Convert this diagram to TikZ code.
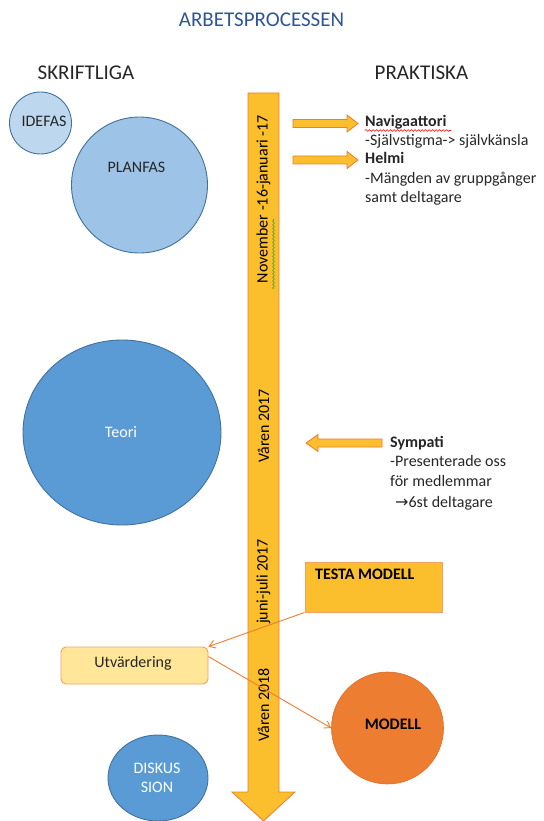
\documentclass[tikz,border=0pt]{standalone}
\usepackage{fontspec}
\setmainfont{Carlito}
\newfontfamily\arrowfont{DejaVu Sans}
\usetikzlibrary{arrows.meta,decorations.pathmorphing,shapes.geometric}
\definecolor{titleblue}{RGB}{47,85,151}
\definecolor{lightblue}{RGB}{189,215,238}
\definecolor{midblue}{RGB}{157,195,230}
\definecolor{accblue}{RGB}{91,155,213}
\definecolor{edgeblue}{RGB}{65,113,156}
\definecolor{gold}{RGB}{251,190,45}
\definecolor{orangeedge}{RGB}{237,125,49}
\definecolor{paleyellow}{RGB}{255,230,153}
\definecolor{boxedge}{RGB}{244,160,100}
\definecolor{darktext}{RGB}{38,38,38}
\tikzset{
  txt/.style={inner sep=0pt, font=\fontsize{16}{19}\selectfont, text=darktext},
  boldtxt/.style={txt, font=\fontsize{16}{19}\selectfont\bfseries},
  headtxt/.style={inner sep=0pt, font=\fontsize{21}{25}\selectfont, text=darktext},
  bluecircle/.style={circle, draw=edgeblue, line width=0.9pt, inner sep=0pt},
  bigarrowstyle/.style={fill=gold, draw=orangeedge, line width=0.8pt},
  blockarrow/.style={fill=gold, draw=orangeedge, line width=0.8pt, line join=miter},
  vtxt/.style={txt, rotate=90, text=black},
  connector/.style={draw=orangeedge, line width=0.9pt, -{Straight Barb[length=6pt,width=8pt]}},
  spellwave/.style={decorate, decoration={snake, segment length=3.5pt, amplitude=0.9pt}, line width=0.6pt}
}
\begin{document}
\begin{tikzpicture}[x=1pt,y=-1pt]
\useasboundingbox (0,0) rectangle (543,821);

% title and headers
\node[headtxt, text=titleblue, anchor=base] (title) at (261.5,27) {ARBETSPROCESSEN};
\node[headtxt, anchor=base] (skrift) at (86,80) {SKRIFTLIGA};
\node[headtxt, anchor=base] (prakt) at (421.5,80) {PRAKTISKA};

% left circles
\node[bluecircle, fill=lightblue, minimum size=62pt] (idefas) at (40.5,123) {};
\node[txt, anchor=base] (idefaslbl) at (44,127) {IDEFAS};
\node[bluecircle, fill=midblue, minimum size=136pt] (planfas) at (139.5,185) {};
\node[txt, anchor=base] (planfaslbl) at (136.5,173) {PLANFAS};
\node[ellipse, draw=edgeblue, line width=0.9pt, fill=accblue, minimum width=198pt, minimum height=185pt] (teori) at (122,432.5) {};
\node[txt, text=white, anchor=center] (teorilbl) at (121,432) {Teori};
\node[ellipse, draw=edgeblue, line width=0.9pt, fill=accblue, minimum width=100pt, minimum height=86pt] (disk) at (158,778) {};
\node[txt, text=white, anchor=base] (disk1) at (157,773) {DISKUS};
\node[txt, text=white, anchor=base] (disk2) at (157,792) {SION};

% big timeline arrow
\draw[bigarrowstyle] (248,93) -- (279,93) -- (279,792) -- (295,792) -- (263.5,821) -- (232,792) -- (248,792) -- cycle;
\node[vtxt] (nov) at (263.5,199) {November -16-januari -17};
\draw[spellwave, draw={rgb,255:red,60;green,160;blue,40}] (273.5,289) -- (273.5,219);
\node[vtxt] (var17) at (263.5,426) {Våren 2017};
\node[vtxt] (juni) at (263.5,581.5) {juni-juli 2017};
\node[vtxt] (var18) at (263.5,705) {Våren 2018};

% right block arrows
\draw[blockarrow] (293,119.5) -- (347,119.5) -- (347,115) -- (358,123.5) -- (347,132) -- (347,127.5) -- (293,127.5) -- cycle;
\draw[blockarrow] (293,156) -- (347,156) -- (347,151.5) -- (358,160) -- (347,168.5) -- (347,164) -- (293,164) -- cycle;
\draw[blockarrow] (382,439) -- (318,439) -- (318,434.5) -- (306,443) -- (318,451.5) -- (318,447) -- (382,447) -- cycle;

% right texts
\node[boldtxt, anchor=base west] (navi) at (365,127) {Navigaattori};
\draw[spellwave, draw=red] (365,130.5) -- (451,130.5);
\node[txt, anchor=base west] (navi2) at (365,145.5) {-Självstigma-> självkänsla};
\node[boldtxt, anchor=base west] (helmi) at (365,164) {Helmi};
\node[txt, anchor=base west] (helmi2) at (365,183) {-Mängden av gruppgånger};
\node[txt, anchor=base west] (helmi3) at (365,202) {samt deltagare};

\node[boldtxt, anchor=base west] (symp) at (390,447) {Sympati};
\node[txt, anchor=base west] (symp2) at (390,466.5) {-Presenterade oss};
\node[txt, anchor=base west] (symp3) at (390,486) {för medlemmar};
\node[txt, anchor=base west] (symp4) at (395,507.5) {{\arrowfont\fontsize{16}{19}\selectfont →}6st deltagare};

% boxes
\node[draw=boxedge, fill=gold, line width=0.9pt, minimum width=137pt, minimum height=50pt, inner sep=0pt] (testa) at (373.5,587) {};
\node[boldtxt, text=black, anchor=base west] (testalbl) at (315,579) {TESTA MODELL};
\node[draw=boxedge, fill=paleyellow, line width=0.9pt, rounded corners=5pt, minimum width=147pt, minimum height=37pt, inner sep=0pt] (utv) at (134.5,665.5) {};
\node[txt, anchor=center] (utvlbl) at (133,663) {Utvärdering};
\node[circle, fill=orangeedge, draw={rgb,255:red,220;green,110;blue,40}, line width=0.6pt, minimum size=112pt, inner sep=0pt] (modell) at (387.5,728) {};
\node[boldtxt, text=black, anchor=center] (modelllbl) at (393,724) {MODELL};

% connectors
\draw[connector] (testa.south west) -- (utv.north east);
\draw[connector] ([yshift=-10pt]utv.north east) -- (modell.west);
\end{tikzpicture}
\end{document}
